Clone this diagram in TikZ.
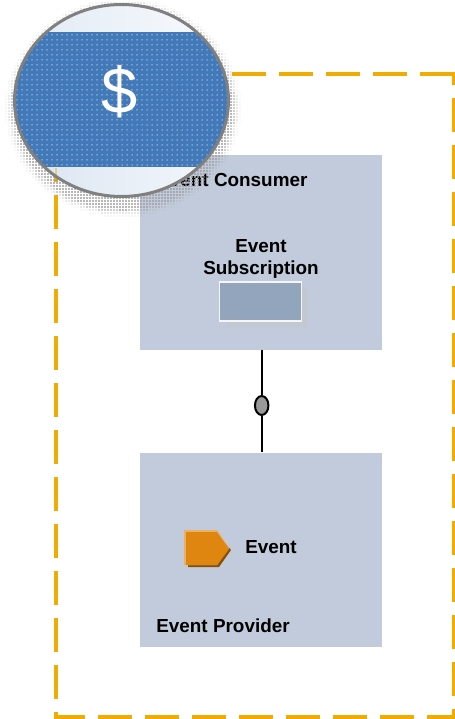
\documentclass[tikz,border=0pt]{standalone}
\usepackage{fontspec}
\setmainfont{Liberation Sans}
\usetikzlibrary{shapes.geometric}

\definecolor{boxblue}{HTML}{C1CBDB}
\definecolor{subblue}{HTML}{92A5BD}
\definecolor{subshadow}{HTML}{C4C8D0}
\definecolor{lensblue}{HTML}{4279B8}
\definecolor{dashorange}{HTML}{F0AC00}
\definecolor{eventorange}{HTML}{DE8610}

\tikzset{
    layerbox/.style={fill=boxblue, minimum width=4.86cm, minimum height=3.9cm, inner sep=0pt},
    boldtext/.style={font=\fontsize{10.75}{13}\selectfont\bfseries, inner sep=0pt, align=center},
}

\begin{document}
\begin{tikzpicture}[x=0.02cm, y=-0.02cm]
\useasboundingbox (0,0) rectangle (455,719);

% boxes
\node[layerbox] (consumer) at (261,252.5) {};
\node[layerbox] (provider) at (261,550) {};

% dashed frame
\draw[dashorange, line width=0.08cm, dash pattern=on 0.69cm off 0.25cm]
    (232,74) -- (456,74)
    (454,72) -- (454,85)
    (454,98) -- (454,717)
    (461,717) -- (54,717)
    (56,717) -- (56,712)
    (56,699) -- (56,73);

% consumer contents
\node[boldtext, anchor=base west] (consumerlabel) at (157,187) {Event Consumer};
\fill[white!55!boxblue] (157,172) rectangle (172,189);
\foreach \x in {158,160.5,...,171} {
    \foreach \y in {173,175.5,...,188} {
        \fill[black!30] (\x,\y) circle[radius=0.011cm];
    }
}
\node[boldtext, anchor=base] (sublabel) at (261,275) {Event\\Subscription};
\fill[subshadow] (226,288) rectangle (307,327);
\node[draw=white!90!subblue, line width=0.03cm, fill=subblue, minimum width=1.64cm, minimum height=0.78cm, inner sep=0pt] (subbox) at (260.5,301.5) {};

% interface
\node[draw=black, line width=0.04cm, fill=black!40, ellipse, minimum width=0.27cm, minimum height=0.38cm, inner sep=0pt] (iface) at (261.7,405.5) {};
\draw[line width=0.045cm] (consumer.south -| iface) -- (iface);
\draw[line width=0.045cm] (iface) -- (provider.north -| iface);

% event
\fill[eventorange!60!black] (188,536) -- (219,536) -- (231,550) -- (219,567) -- (188,567) -- cycle;
\fill[eventorange!65!white] (184,530) -- (217,530) -- (229,548) -- (217,565) -- (184,565) -- cycle;
\fill[eventorange] (186,532) -- (217,532) -- (229,549) -- (217,565) -- (186,565) -- cycle;
\node[boldtext, anchor=base west] (eventlabel) at (245,553) {Event};
\node[boldtext, anchor=base west] (providerlabel) at (156,632) {Event Provider};

% halftone shadow of the lens
\foreach \x in {6,9,...,246} {
    \foreach \y in {3,6,...,222} {
        \pgfmathsetmacro{\d}{sqrt(((\x-123)/102)^2+((\y-108)/95)^2)}
        \ifdim \d pt<1.16pt
            \pgfmathsetmacro{\r}{min(1.15,1.5*(1.16-\d)/0.16+0.2)*0.02}
            \fill[black!38] (\x,\y) circle[radius=\r cm];
        \fi
    }
}

% lens
\begin{scope}
    \clip (121.5,100.5) ellipse[x radius=107, y radius=96];
    \fill[white] (10,0) rectangle (235,200);
    \shade[left color=white!84!lensblue, right color=white!97!lensblue] (10,0) rectangle (235,33);
    \shade[left color=white!80!lensblue, right color=white!95!lensblue] (10,167) rectangle (235,200);
    \fill[lensblue] (10,32) rectangle (235,167);
    \foreach \x in {12,17,...,232} {
        \foreach \y in {35,40,...,165} {
            \fill[white, opacity=0.6] (\x,\y) circle[radius=0.015cm];
        }
    }
    \fill[dashorange, opacity=0.45] (55,168) rectangle (57,181);
\end{scope}
\draw[black!50, line width=0.06cm] (121.5,100.5) ellipse[x radius=107, y radius=96];
\node[text=white, font=\fontsize{37}{40}\selectfont, inner sep=0pt] (dollar) at (120,92) {\$};

\end{tikzpicture}
\end{document}
